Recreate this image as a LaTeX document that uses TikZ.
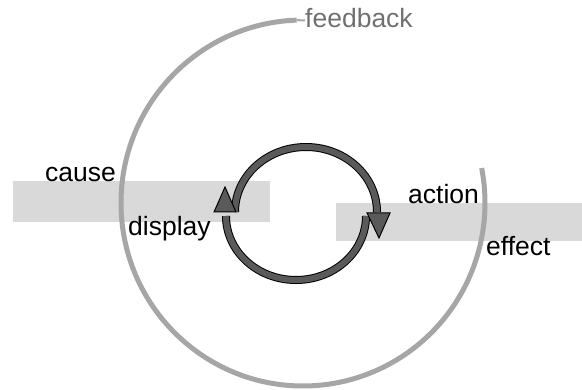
\documentclass[tikz,border=0pt]{standalone}
\usepackage{fontspec}
\setmainfont{Liberation Sans}
\definecolor{barfill}{HTML}{D9D9D9}
\definecolor{spiralgray}{HTML}{A6A6A6}
\definecolor{ringgray}{HTML}{5A5A5A}
\definecolor{labelgray}{HTML}{707070}
\begin{document}
\begin{tikzpicture}[x=1pt,y=-1pt,
  lbl/.style={inner sep=0pt,anchor=base west,font=\fontsize{26.5}{30}\selectfont},
  bar/.style={fill=barfill,draw=none},
  spiral/.style={draw=spiralgray,line width=5pt,line cap=butt},
  ringout/.style={draw=black,line width=8pt},
  ringin/.style={draw=ringgray,line width=6pt},
  tip/.style={fill=ringgray,draw=black,line width=1pt,line join=miter}]
\useasboundingbox (0,0) rectangle (582,390);

% background bands
\fill[bar] (13,181) rectangle (270,222);
\fill[bar] (336,203) rectangle (582,241);

% outer feedback loop: circle centred at (303,203), open at the upper right
\coordinate (hub) at (303,203);
\draw[spiral] ([shift={(268:182 and 183)}]hub)
  arc[start angle=268,end angle=-11,x radius=182,y radius=183];
\draw[draw=spiralgray,line width=2pt] ([shift={(268:182 and 183)}]hub) -- (305,20.5);

% inner loop: lower arc (right to left) and upper arc (left to right)
\draw[ringout] (366,216) arc[start angle=0,end angle=180,x radius=70,y radius=64];
\draw[ringin]  (366,216) arc[start angle=0,end angle=180,x radius=70,y radius=64];
\draw[ringout] (235,212) arc[start angle=180,end angle=360,x radius=71,y radius=65];
\draw[ringin]  (235,212) arc[start angle=180,end angle=360,x radius=71,y radius=65];

% arrow heads
\draw[tip] (225,187) -- (214,212) -- (236,212) -- cycle;
\draw[tip] (379,238) -- (367,213) -- (390,213) -- cycle;

% labels
\node[lbl,text=labelgray] (feedback) at (305,28) {feedback};
\node[lbl] (cause) at (45,182) {cause};
\node[lbl] (display) at (128,236) {display};
\node[lbl] (action) at (408,204) {action};
\node[lbl] (effect) at (486,256) {effect};
\end{tikzpicture}
\end{document}
